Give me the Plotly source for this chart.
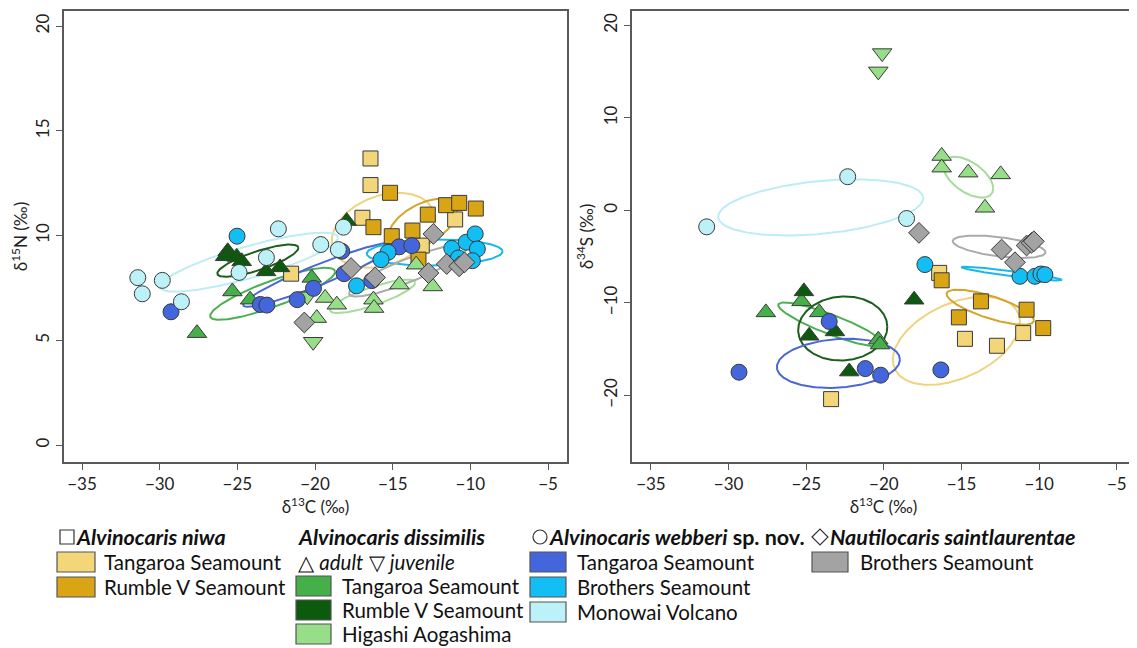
import numpy as np
import plotly.graph_objects as go

# ---------------- DATA ----------------
# Left panel: d13C vs d15N ; Right panel: d13C vs d34S
niwa_tan_c_N = [-16.43, -16.43, -16.95, -21.54, -10.98, -13.13]
niwa_tan_n15 = [13.68, 12.41, 10.85, 8.18, 10.77, 9.52]
niwa_rum_c_N = [-15.17, -16.24, -12.74, -11.56, -10.72, -9.65, -13.73, -15.06, -13.34]
niwa_rum_n15 = [12.04, 10.40, 11.00, 11.45, 11.56, 11.29, 10.24, 9.97, 8.85]

diss_tan_c_N = [-25.32, -27.60, -24.18, -20.21]
diss_tan_n15 = [7.33, 5.34, 6.94, 7.98]
diss_rum_c_N = [-25.62, -25.79, -25.04, -24.72, -23.15, -22.25, -17.96]
diss_rum_n15 = [9.25, 9.01, 8.98, 8.77, 8.29, 8.48, 10.69]
diss_hig_c_N = [-19.35, -18.60, -16.24, -16.20, -14.57, -12.42, -13.49, -19.89]
diss_hig_n15 = [7.02, 6.70, 6.94, 6.54, 7.66, 7.57, 8.61, 6.06]
diss_juv_c_N = [-20.12, -20.50]
diss_juv_n15 = [4.93, 7.10]

webb_tan_c_N = [-29.27, -23.52, -23.10, -21.15, -20.10, -18.13, -18.28, -16.34, -14.59, -13.77]
webb_tan_n15 = [6.36, 6.71, 6.68, 6.94, 7.48, 8.18, 9.25, 7.85, 9.46, 9.52]
webb_bro_c_N = [-25.02, -15.30, -15.75, -17.33, -11.20, -10.27, -9.69, -9.55, -10.77, -9.87]
webb_bro_n15 = [9.97, 9.20, 8.85, 7.60, 9.39, 9.68, 10.08, 9.36, 8.93, 8.80]
webb_mon_c_N = [-31.41, -31.12, -29.83, -28.60, -22.36, -23.13, -24.89, -19.63, -18.50, -18.17]
webb_mon_n15 = [7.99, 7.22, 7.86, 6.84, 10.32, 8.95, 8.24, 9.57, 9.33, 10.40]

naut_bro_c_N = [-17.68, -16.13, -12.70, -11.52, -10.72, -10.38, -12.38, -20.69]
naut_bro_n15 = [8.45, 8.00, 8.21, 8.64, 8.53, 8.72, 10.08, 5.85]

niwa_tan_c_S = [-16.44, -14.78, -12.72, -11.03, -23.40]
niwa_tan_s34 = [-6.75, -13.88, -14.63, -13.26, -20.40]
niwa_rum_c_S = [-16.28, -13.75, -15.17, -10.81, -9.74]
niwa_rum_s34 = [-7.55, -9.83, -11.56, -10.73, -12.72]

diss_tan_c_S = [-27.60, -24.16, -25.30, -20.36, -20.25]
diss_tan_s34 = [-11.02, -11.02, -9.83, -13.98, -14.50]
diss_rum_c_S = [-25.15, -24.81, -23.15, -22.23, -18.05]
diss_rum_s34 = [-8.75, -13.55, -13.08, -17.42, -9.65]
diss_hig_c_S = [-16.28, -16.28, -14.57, -12.48, -13.49]
diss_hig_s34 = [5.89, 4.63, 4.09, 3.90, 0.29]
diss_juv_c_S = [-20.11, -20.36]
diss_juv_s34 = [17.02, 15.04]

webb_tan_c_S = [-29.33, -23.52, -21.20, -20.21, -16.33]
webb_tan_s34 = [-17.49, -12.00, -17.10, -17.81, -17.24]
webb_bro_c_S = [-17.36, -11.24, -10.27, -9.89, -9.63]
webb_bro_s34 = [-5.85, -7.12, -7.12, -6.87, -6.94]
webb_mon_c_S = [-31.41, -22.33, -18.54]
webb_mon_s34 = [-1.77, 3.65, -0.87]

naut_bro_c_S = [-17.74, -12.42, -11.56, -10.81, -10.49, -10.34]
naut_bro_s34 = [-2.42, -4.23, -5.60, -3.79, -3.50, -3.33]

# Standard ellipses: (mean x, mean y, sd x, sd y, correlation)
ell_N_niwa_tan = (-15.60, 10.25, 3.33, 1.79, 0.29)
ell_N_niwa_rum = (-13.09, 10.54, 2.22, 1.21, 0.51)
ell_N_diss_tan = (-22.73, 7.22, 4.02, 1.24, 0.85)
ell_N_diss_rum = (-23.68, 8.80, 2.61, 0.77, 0.79)
ell_N_diss_hig = (-16.29, 7.10, 2.74, 0.80, 0.82)
ell_N_webb_tan = (-19.74, 8.13, 4.89, 1.53, 0.94)
ell_N_webb_bro = (-12.30, 9.19, 4.37, 0.62, 0.08)
ell_N_webb_mon = (-24.25, 8.73, 5.73, 1.41, 0.83)
ell_N_naut_bro = (-14.01, 8.33, 3.80, 1.24, 0.88)

ell_S_niwa_tan = (-15.33, -14.09, 4.09, 4.77, 0.43)
ell_S_niwa_rum = (-13.15, -10.46, 2.81, 1.90, -0.75)
ell_S_diss_tan = (-23.42, -12.33, 3.38, 2.38, -0.88)
ell_S_diss_rum = (-22.65, -12.76, 2.87, 3.47, 0.05)
ell_S_diss_hig = (-14.57, 3.60, 1.61, 2.22, -0.55)
ell_S_webb_tan = (-22.93, -16.53, 3.96, 2.66, 0.15)
ell_S_webb_bro = (-11.77, -6.83, 3.24, 0.75, -0.93)
ell_S_webb_mon = (-24.07, 0.33, 6.60, 3.04, 0.33)
ell_S_naut_bro = (-12.58, -3.92, 2.99, 1.21, -0.50)

x_ticks = [-35, -30, -25, -20, -15, -10, -5]
yN_ticks = [0, 5, 10, 15, 20]
yS_ticks = [-20, -10, 0, 10, 20]

# ---------------- STYLE ----------------
C_NT = "#F3D67A"; C_NR = "#D9A514"
C_DT = "#45B04A"; C_DR = "#0B5A0D"; C_DH = "#96DE88"
C_WT = "#4466DC"; C_WB = "#12BEF4"; C_WM = "#BDF1F8"
C_GR = "#A3A3A3"
EDGE = "#3A3A3A"
FONT = "Lato, 'Open Sans', sans-serif"
OFF = 8                      # page body margin of the html page
W, H = 1137 - OFF, 648 - OFF

fig = go.Figure()


def ellipse(p, col, xa, ya):
    cx, cy, sx, sy, r = p
    t = np.linspace(0, 2 * np.pi, 240)
    x = cx + sx * np.cos(t)
    y = cy + sy * (r * np.cos(t) + np.sqrt(1 - r * r) * np.sin(t))
    fig.add_trace(go.Scatter(x=x, y=y, mode="lines", line=dict(color=col, width=2),
                             xaxis=xa, yaxis=ya, showlegend=False, hoverinfo="skip"))


def pts(x, y, sym, col, size, xa, ya):
    fig.add_trace(go.Scatter(x=x, y=y, mode="markers", xaxis=xa, yaxis=ya, showlegend=False,
                             marker=dict(symbol=sym, color=col, size=size,
                                         line=dict(color=EDGE, width=1))))


for xa, ya, E in [("x", "y", [ell_N_niwa_tan, ell_N_niwa_rum, ell_N_diss_tan, ell_N_diss_rum,
                               ell_N_diss_hig, ell_N_webb_tan, ell_N_webb_bro, ell_N_webb_mon,
                               ell_N_naut_bro]),
                  ("x2", "y2", [ell_S_niwa_tan, ell_S_niwa_rum, ell_S_diss_tan, ell_S_diss_rum,
                                ell_S_diss_hig, ell_S_webb_tan, ell_S_webb_bro, ell_S_webb_mon,
                                ell_S_naut_bro])]:
    for p, c in zip(E, ["#EFD37E", "#D4A52A", "#4CAF50", "#1C5E1C", "#A6DC9A",
                        "#4A67D6", "#1AB8EA", "#BDEDF4", "#ABABAB"]):
        ellipse(p, c, xa, ya)

SQ, TRI, CIR, DIA = 15, 17, 16, 16
for xa, ya, D in [
    ("x", "y", [(niwa_tan_c_N, niwa_tan_n15, "square", C_NT, SQ),
                (niwa_rum_c_N, niwa_rum_n15, "square", C_NR, SQ),
                (diss_tan_c_N, diss_tan_n15, "triangle-up", C_DT, TRI),
                (diss_rum_c_N, diss_rum_n15, "triangle-up", C_DR, TRI),
                (diss_hig_c_N, diss_hig_n15, "triangle-up", C_DH, TRI),
                (diss_juv_c_N, diss_juv_n15, "triangle-down", C_DH, TRI),
                (webb_tan_c_N, webb_tan_n15, "circle", C_WT, CIR),
                (webb_bro_c_N, webb_bro_n15, "circle", C_WB, CIR),
                (webb_mon_c_N, webb_mon_n15, "circle", C_WM, CIR),
                (naut_bro_c_N, naut_bro_n15, "diamond", C_GR, DIA)]),
    ("x2", "y2", [(niwa_tan_c_S, niwa_tan_s34, "square", C_NT, SQ),
                  (niwa_rum_c_S, niwa_rum_s34, "square", C_NR, SQ),
                  (diss_tan_c_S, diss_tan_s34, "triangle-up", C_DT, TRI),
                  (diss_rum_c_S, diss_rum_s34, "triangle-up", C_DR, TRI),
                  (diss_hig_c_S, diss_hig_s34, "triangle-up", C_DH, TRI),
                  (diss_juv_c_S, diss_juv_s34, "triangle-down", C_DH, TRI),
                  (webb_tan_c_S, webb_tan_s34, "circle", C_WT, CIR),
                  (webb_bro_c_S, webb_bro_s34, "circle", C_WB, CIR),
                  (webb_mon_c_S, webb_mon_s34, "circle", C_WM, CIR),
                  (naut_bro_c_S, naut_bro_s34, "diamond", C_GR, DIA)])]:
    for x, y, s, c, z in D:
        pts(x, y, s, c, z, xa, ya)

AX = dict(showline=True, mirror=True, linecolor="#5A5A5A", linewidth=1.5, ticks="outside",
          ticklen=6, tickcolor="#5A5A5A", tickwidth=1.2, showgrid=False, zeroline=False,
          tickfont=dict(family=FONT, size=17, color="#222"),
          title_font=dict(family=FONT, size=17, color="#222"))


def px_x(p):
    return (p - OFF) / W


def px_y(p):
    return 1 - (p - OFF) / H


fig.update_layout(
    width=W, height=H, margin=dict(l=0, r=0, t=0, b=0),
    plot_bgcolor="white", paper_bgcolor="white", showlegend=False,
    xaxis=dict(AX, domain=[px_x(64), px_x(567)], range=[-36.16, -3.78], tickvals=x_ticks,
               ticktext=["\u2212" + str(-v) for v in x_ticks],
               title=dict(text="\u03b4<sup>13</sup>C (\u2030)", standoff=1), anchor="y"),
    yaxis=dict(AX, domain=[px_y(462), px_y(11)], range=[-0.81, 20.72], tickvals=yN_ticks,
               tickangle=-90,
               title=dict(text="\u03b4<sup>15</sup>N (\u2030)", standoff=3), anchor="x"),
    xaxis2=dict(AX, domain=[px_x(632), px_x(1135)], range=[-36.22, -3.83], tickvals=x_ticks,
                ticktext=["\u2212" + str(-v) for v in x_ticks],
                title=dict(text="\u03b4<sup>13</sup>C (\u2030)", standoff=1), anchor="y2"),
    yaxis2=dict(AX, domain=[px_y(462), px_y(11)], range=[-27.2, 21.57], tickvals=yS_ticks,
                tickangle=-90,
                ticktext=[("\u2212" + str(-v)) if v < 0 else str(v) for v in yS_ticks],
                title=dict(text="\u03b4<sup>34</sup>S (\u2030)", standoff=3), anchor="x2"),
)

# ---------------- LEGEND (below plots) ----------------
ann = []
shapes = []
LINE = dict(color="#333", width=1.2)


def txt(px, py, s, size=20.5):
    ann.append(dict(x=px_x(px - 2), y=px_y(py), xref="paper", yref="paper", text=s,
                    showarrow=False, xanchor="left", yanchor="middle",
                    font=dict(family=FONT, size=size, color="#111")))


def swatch(x0, x1, yc, col):
    shapes.append(dict(type="rect", xref="paper", yref="paper", x0=px_x(x0), x1=px_x(x1),
                       y0=px_y(yc + 10), y1=px_y(yc - 10), fillcolor=col,
                       line=dict(color="#555", width=1.2)))


HY = 537
HS = 21.5
# header glyphs: square, circle, diamond
shapes.append(dict(type="rect", xref="paper", yref="paper", x0=px_x(60), x1=px_x(74),
                   y0=px_y(HY + 7), y1=px_y(HY - 7), line=LINE))
shapes.append(dict(type="circle", xref="paper", yref="paper", x0=px_x(533), x1=px_x(547),
                   y0=px_y(HY + 7), y1=px_y(HY - 7), line=LINE))
shapes.append(dict(type="path", xref="paper", yref="paper",
                   path="M %f %f L %f %f L %f %f L %f %f Z" % (
                       px_x(812), px_y(HY), px_x(820), px_y(HY - 8),
                       px_x(828), px_y(HY), px_x(820), px_y(HY + 8)), line=LINE))
txt(76, HY, "<b><i>Alvinocaris niwa</i></b>", HS)
txt(298, HY, "<b><i>Alvinocaris dissimilis</i></b>", HS)
txt(298, 562, "\u25b3 <i>adult</i> \u25bd <i>juvenile</i>", 20.5)
txt(549, HY, "<b><i>Alvinocaris webberi</i> sp. nov.</b>", HS)
txt(830, HY, "<b><i>Nautilocaris saintlaurentae</i></b>", HS)

for yc, c, s in [(562, C_NT, "Tangaroa Seamount"), (587, C_NR, "Rumble V Seamount")]:
    swatch(57, 95, yc, c)
    txt(104, yc, s)
for yc, c, s in [(586, C_DT, "Tangaroa Seamount"), (610, C_DR, "Rumble V Seamount"),
                 (634, C_DH, "Higashi Aogashima")]:
    swatch(296, 331, yc, c)
    txt(342, yc, s)
for yc, c, s in [(562, C_WT, "Tangaroa Seamount"), (587, C_WB, "Brothers Seamount"),
                 (612, C_WM, "Monowai Volcano")]:
    swatch(530, 566, yc, c)
    txt(577, yc, s)
swatch(812, 848, 562, C_GR)
txt(860, 562, "Brothers Seamount")

fig.update_layout(annotations=ann, shapes=shapes)
fig.write_html("out.html")
